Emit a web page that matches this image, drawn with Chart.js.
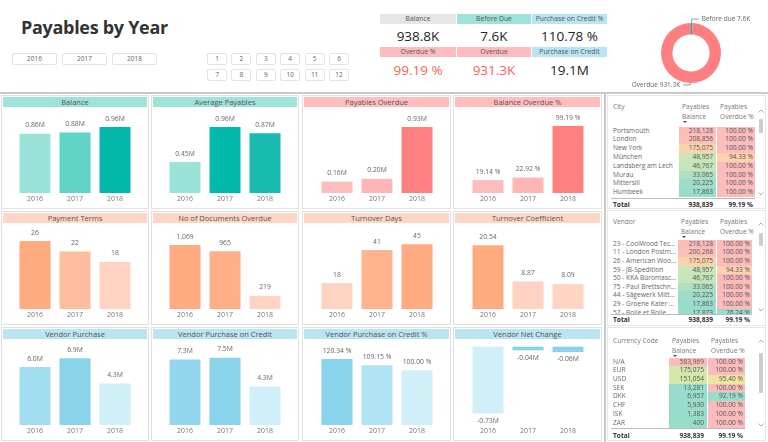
<!DOCTYPE html>
<html><head><meta charset="utf-8">
<script src="https://cdn.jsdelivr.net/npm/chart.js@4.4.1/dist/chart.umd.min.js"></script>
<style>
html,body{margin:0;padding:0}
body{width:768px;height:442px;overflow:hidden;background:#fff;position:relative;font-family:"Open Sans","Noto Sans",sans-serif;color:#666}
.a{position:absolute;white-space:nowrap}
.btn{position:absolute;border:1px solid #e3e3e3;border-radius:2px;background:#fff;font-size:6.5px;color:#666;text-align:center;box-sizing:border-box;line-height:10px}
.panel{position:absolute;border:1px solid #e0e0e0;box-sizing:border-box;background:#fff}
.ph{position:absolute;left:1px;right:1px;top:1px;height:10px;line-height:10px;font-size:7.5px;color:#555;text-align:center;white-space:nowrap}
.tbl{position:absolute;border:1px solid #e6e6e6;box-sizing:border-box;overflow:hidden;font-size:6.6px;background:#fff}
canvas{position:absolute}
</style></head><body>
<script>
// ---------- DATA ----------
const years = ['2016', '2017', '2018'];
const months = ['1','2','3','4','5','6','7','8','9','10','11','12'];
const balance = [0.86, 0.88, 0.96];
const avgPayables = [0.45, 0.96, 0.87];
const payablesOverdue = [0.16, 0.20, 0.93];
const balanceOverduePct = [19.14, 22.92, 99.19];
const paymentTerms = [26, 22, 18];
const docsOverdue = [1069, 965, 219];
const turnoverDays = [18, 41, 45];
const turnoverCoef = [20.54, 8.87, 8.09];
const vendorPurchase = [6.0, 6.9, 4.3];
const vendorPurchaseCredit = [7.3, 7.5, 4.3];
const vendorPurchaseCreditPct = [120.34, 109.15, 100.00];
const vendorNetChange = [-0.73, -0.04, -0.06];

const kpiLabelsTop = ['Balance', 'Before Due', 'Purchase on Credit %'];
const kpiValuesTop = ['938.8K', '7.6K', '110.78 %'];
const kpiLabelsBottom = ['Overdue %', 'Overdue', 'Purchase on Credit'];
const kpiValuesBottom = ['99.19 %', '931.3K', '19.1M'];

const donutLabels = ['Before due', 'Overdue'];
const donutValues = [7.6, 931.3];

const cityNames = ['Portsmouth','London','New York','München','Landsberg am Lech','Murau','Mittersill','Humbeek'];
const cityBalance = [218128, 208856, 175075, 48957, 46767, 33065, 20225, 17863];
const cityOverdue = [100, 100, 100, 94.33, 100, 100, 100, 100];
const vendorNames = ['23 - CoolWood Tec...','11 - London Postm...','26 - American Woo...','59 - JB-Spedition','50 - KKA Büromasc...','75 - Paul Brettschn...','44 - Sägewerk Mitt...','29 - Groene Kater ...','57 - Bolle et Bolle'];
const vendorBalance = [218128, 200268, 175075, 48957, 46767, 33065, 20225, 17863, 17873];
const vendorOverdue = [100, 100, 100, 94.33, 100, 100, 100, 100, 76.24];
const currencyCodes = ['N/A','EUR','USD','SEK','DKK','CHF','ISK','ZAR'];
const currencyBalance = [583969, 175075, 151054, 13281, 6957, 5930, 1383, 400];
const currencyOverdue = [100, 100, 95.40, 100, 92.19, 100, 100, 100];
const totalBalance = 938839;
const totalOverduePct = 99.19;

// ---------- STYLES ----------
const PINK='#fcbcbc', PEACH='#fdd2ae', TEAL='#98dccb';
const cityBalColors = [PINK,'#fdc1b9',PEACH,'#cae6b9','#c5e5b9','#afe0c3','#a0ddc8',TEAL];
const cityPctColors = [PINK,PINK,PINK,PEACH,PINK,PINK,PINK,PINK];
const vendorBalColors = [PINK,'#fdc1b9',PEACH,'#cae6b9','#c5e5b9','#afe0c3','#a0ddc8',TEAL,TEAL];
const vendorPctColors = [PINK,PINK,PINK,PEACH,PINK,PINK,PINK,PINK,TEAL];
const curBalColors = [PINK,'#d3e6ab','#d6e6a9',TEAL,TEAL,TEAL,TEAL,TEAL];
const curPctColors = [PINK,PINK,'#ece6a3',PINK,TEAL,PINK,PINK,PINK];

// ---------- HELPERS ----------
function el(parent, cls, css, html){
  const d=document.createElement('div'); if(cls) d.className=cls;
  for(const k in css){ const v=css[k]; d.style[k]=(typeof v==='number')?v+'px':v; }
  if(html!==undefined) d.textContent=html;
  parent.appendChild(d); return d;
}
const B=document.body;
function thousands(n,sep){ return String(n).replace(/\B(?=(\d{3})+(?!\d))/g, sep); }
const fM2=v=>v.toFixed(2)+'M', fM1=v=>v.toFixed(1)+'M', fPct=v=>v.toFixed(2)+' %', fInt=v=>thousands(v,'.'), fD2=v=>v.toFixed(2);

// ---------- HEADER AREA ----------
el(B,'a',{left:21,top:15,fontSize:18,fontWeight:'700',color:'#333',lineHeight:24,letterSpacing:'-0.3px'},'Payables by Year');
years.forEach((y,i)=>el(B,'btn',{left:12+i*50,top:53,width:45,height:12},y));
months.forEach((m,i)=>el(B,'btn',{left:207+(i%6)*24.4,top:53+Math.floor(i/6)*16,width:20,height:12},m));

const kx=[380,457,532], kw=[76,74,75];
const headTop=['#e6e6e6','#9ee3da','#b9e4f1'], headBot=['#ffbcbc','#ffbcbc','#b9e4f1'];
const valColTop=['#252423','#252423','#252423'], valColBot=['#fd625e','#fd625e','#252423'];
kpiLabelsTop.forEach((l,i)=>{
  el(B,'a',{left:kx[i],top:14,width:kw[i],height:9.5,lineHeight:9.5,background:headTop[i],fontSize:6.8,color:'#555',textAlign:'center'},l);
  el(B,'a',{left:kx[i],top:27,width:kw[i],height:18,lineHeight:18,fontSize:13.5,color:valColTop[i],textAlign:'center'},kpiValuesTop[i]);
});
kpiLabelsBottom.forEach((l,i)=>{
  el(B,'a',{left:kx[i],top:47,width:kw[i],height:10,lineHeight:10,background:headBot[i],fontSize:6.8,color:'#555',textAlign:'center'},l);
  el(B,'a',{left:kx[i],top:60.5,width:kw[i],height:18,lineHeight:18,fontSize:13.5,color:valColBot[i],textAlign:'center'},kpiValuesBottom[i]);
});

// separators
el(B,'a',{left:0,top:92,width:768,height:1.5,background:'#c9c9c9'});
el(B,'a',{left:604,top:92,width:1.5,height:350,background:'#c9c9c9'});

// ---------- DONUT ----------
const donutLabelPlugin={id:'dl',afterDatasetsDraw(chart){
  const ctx=chart.ctx, meta=chart.getDatasetMeta(0), ds=chart.data.datasets[0];
  ctx.save(); ctx.font='6.5px "Open Sans"'; ctx.fillStyle='#666'; ctx.strokeStyle='#999'; ctx.lineWidth=1;
  meta.data.forEach((arc,i)=>{
    const p=arc.getProps(['x','y','startAngle','endAngle','outerRadius'],true);
    const mid=(p.startAngle+p.endAngle)/2;
    const px=p.x+Math.cos(mid)*p.outerRadius, py=p.y+Math.sin(mid)*p.outerRadius;
    const up=Math.sin(mid)<0, right=Math.cos(mid)>=0;
    const y2=py+(up?-4:2), x2=px+(right?7:-7);
    ctx.beginPath(); ctx.moveTo(px,py); ctx.lineTo(px,y2); ctx.lineTo(x2,y2); ctx.stroke();
    ctx.textBaseline='middle'; ctx.textAlign=right?'left':'right';
    ctx.fillText(chart.data.labels[i]+' '+ds.data[i]+'K', x2+(right?3:-3), y2);
  });
  ctx.restore();
}};
(function(){
  const cv=document.createElement('canvas'); cv.width=122; cv.height=86; cv.style.left='630px'; cv.style.top='10px'; B.appendChild(cv);
  new Chart(cv,{type:'doughnut',data:{labels:donutLabels,datasets:[{data:donutValues,backgroundColor:['#01b8aa','#fd7f7f'],borderWidth:0,radius:30,cutout:'62%'}]},
    options:{responsive:false,animation:false,devicePixelRatio:1,plugins:{legend:{display:false},tooltip:{enabled:false}}},
    plugins:[donutLabelPlugin]});
})();

// ---------- BAR PANELS ----------
function valueLabelPlugin(fmt){
  return {id:'vl',afterDatasetsDraw(chart){
    const ctx=chart.ctx, meta=chart.getDatasetMeta(0), data=chart.data.datasets[0].data;
    ctx.save(); ctx.font='6.8px "Open Sans"'; ctx.fillStyle='#666'; ctx.textAlign='center';
    meta.data.forEach((bar,i)=>{
      const v=data[i], t=fmt(v);
      if(v>=0){ctx.textBaseline='bottom'; ctx.fillText(t,bar.x,bar.y-5);}
      else {ctx.textBaseline='top'; ctx.fillText(t,bar.x,bar.y+4);}
    });
    ctx.restore();
  }};
}
const TEAL_H='#9ee3da', PINK_H='#ffbdbd', PEACH_H='#ffd5c5', BLUE_H='#b9e4f1';
const panels=[
  {title:'Balance',data:balance,fmt:fM2,colors:['#9ae3d9','#5fd3c6','#01b8aa'],head:TEAL_H,max:1.236},
  {title:'Average Payables',data:avgPayables,fmt:fM2,colors:['#9ae3d9','#01b8aa','#17bcae'],head:TEAL_H,max:1.236},
  {title:'Payables Overdue',data:payablesOverdue,fmt:fM2,colors:['#ffbcbc','#ffb6b6','#fe8080'],head:PINK_H,max:1.198},
  {title:'Balance Overdue %',data:balanceOverduePct,fmt:fPct,colors:['#ffbcbc','#ffb6b6','#fe8080'],head:PINK_H,max:125.8},
  {title:'Payment Terms',data:paymentTerms,fmt:v=>String(v),colors:['#ffab82','#ffbd9d','#ffd3c1'],head:PEACH_H,max:32.5},
  {title:'No of Documents Overdue',data:docsOverdue,fmt:fInt,colors:['#ffab82','#ffae88','#ffd3c1'],head:PEACH_H,max:1420},
  {title:'Turnover Days',data:turnoverDays,fmt:v=>String(v),colors:['#ffd3c1','#ffb38e','#ffab82'],head:PEACH_H,max:59.1},
  {title:'Turnover Coefficient',data:turnoverCoef,fmt:fD2,colors:['#ffab82','#ffd3c1','#ffd5c4'],head:PEACH_H,max:27.4},
  {title:'Vendor Purchase',data:vendorPurchase,fmt:fM1,colors:['#a2dcef','#8ad4eb','#d1eff9'],head:BLUE_H,max:8.79},
  {title:'Vendor Purchase on Credit',data:vendorPurchaseCredit,fmt:fM1,colors:['#92d7ed','#8ad4eb','#d1eff9'],head:BLUE_H,max:9.47},
  {title:'Vendor Purchase on Credit %',data:vendorPurchaseCreditPct,fmt:fPct,colors:['#8ad4eb','#b0e3f3','#d1eff9'],head:BLUE_H,max:155},
  {title:'Vendor Net Change',data:vendorNetChange,fmt:fM2,colors:['#d1eff9','#8ad4eb','#8ad4eb'],head:BLUE_H,max:0.073,min:-0.857}
];
const colX=[1,151,302,453], colW=[148,148,149,149], rowY=[95,211,327];
panels.forEach((p,idx)=>{
  const c=idx%4, r=Math.floor(idx/4);
  const left=colX[c], top=rowY[r], w=colW[c];
  const pd=el(B,'panel',{left:left,top:top,width:w,height:114});
  el(pd,'ph',{background:p.head},p.title);
  const cx=left+w/2;
  const cv=document.createElement('canvas'); cv.width=120; cv.height=99;
  cv.style.left=(cx-60)+'px'; cv.style.top=(top+13)+'px'; B.appendChild(cv);
  new Chart(cv,{type:'bar',
    data:{labels:years,datasets:[{data:p.data,backgroundColor:p.colors,borderWidth:0,barPercentage:0.775,categoryPercentage:1}]},
    options:{responsive:false,animation:false,devicePixelRatio:1,layout:{padding:0},
      plugins:{legend:{display:false},tooltip:{enabled:false}},
      scales:{
        x:{grid:{display:false,drawTicks:false},border:{display:false},
           ticks:{color:'#777',font:{size:7,family:'"Open Sans"'},padding:2,maxRotation:0,autoSkip:false},
           afterFit(s){s.height=14;}},
        y:{display:false,min:(p.min!==undefined?p.min:0),max:p.max}
      }},
    plugins:[valueLabelPlugin(p.fmt)]});
});

// ---------- TABLES ----------
function chevron(parent,left,top,up){
  const s=document.createElementNS('http://www.w3.org/2000/svg','svg');
  s.setAttribute('width','6'); s.setAttribute('height','4');
  s.style.position='absolute'; s.style.left=left+'px'; s.style.top=top+'px';
  const pl=document.createElementNS('http://www.w3.org/2000/svg','polyline');
  pl.setAttribute('points',up?'0.5,3.5 3,1 5.5,3.5':'0.5,0.5 3,3 5.5,0.5');
  pl.setAttribute('fill','none'); pl.setAttribute('stroke','#999'); pl.setAttribute('stroke-width','0.8');
  s.appendChild(pl); parent.appendChild(s);
}
function buildTable(t){
  const box=el(B,'tbl',{left:t.x,top:t.y,width:t.w,height:t.h});
  const hc='#777', lh=9;
  el(box,'a',{left:5,top:t.hy-lh/2,lineHeight:lh,color:hc},t.title);
  el(box,'a',{left:t.bL+3,top:t.hy-lh/2,lineHeight:lh,color:hc},'Payables');
  el(box,'a',{left:t.bL+3,top:t.hy+10.5-lh/2,lineHeight:lh,color:hc},'Balance');
  el(box,'a',{left:t.bL+4,top:t.hy+15,width:0,height:0,borderLeft:'2px solid transparent',borderRight:'2px solid transparent',borderTop:'2.5px solid #444'});
  el(box,'a',{left:t.pL+3,top:t.hy-lh/2,lineHeight:lh,color:hc},'Payables');
  el(box,'a',{left:t.pL+3,top:t.hy+10.5-lh/2,lineHeight:lh,color:hc},'Overdue %');
  const body=el(box,'a',{left:0,top:t.bTop,width:t.w-8,height:t.bBot-t.bTop,overflow:'hidden'});
  t.names.forEach((n,i)=>{
    const cy=t.r0-t.bTop+i*t.rh, top=cy-t.rh/2;
    el(body,'a',{left:t.bL,top:top,width:t.bR-t.bL,height:t.rh+0.3,background:t.balC[i]});
    el(body,'a',{left:t.pL,top:top,width:t.pR-t.pL,height:t.rh+0.3,background:t.pctC[i]});
    el(body,'a',{left:5,top:top,lineHeight:t.rh,color:'#666'},n);
    el(body,'a',{left:t.bL,top:top,width:t.bR-t.bL-3,lineHeight:t.rh,textAlign:'right',color:'#555'},thousands(t.bal[i],','));
    el(body,'a',{left:t.pL,top:top,width:t.pR-t.pL-2,lineHeight:t.rh,textAlign:'right',color:'#555'},t.pct[i].toFixed(2)+' %');
  });
  el(box,'a',{left:3,top:t.bBot,width:t.pR-3,height:0.8,background:'#bbb'});
  const tt=t.ty-lh/2;
  el(box,'a',{left:5,top:tt,lineHeight:lh,color:'#333',fontWeight:'700'},'Total');
  el(box,'a',{left:t.bL,top:tt,width:t.bR-t.bL-3,lineHeight:lh,textAlign:'right',color:'#333',fontWeight:'700'},thousands(totalBalance,','));
  el(box,'a',{left:t.pL,top:tt,width:t.pR-t.pL-2,lineHeight:lh,textAlign:'right',color:'#333',fontWeight:'700'},totalOverduePct.toFixed(2)+' %');
  // scrollbar
  el(box,'a',{left:151,top:t.thumb[0],width:4,height:t.thumb[1]-t.thumb[0],background:'#cdcdcd',borderRadius:'1px'});
  chevron(box,150,t.up-2,true); chevron(box,150,t.down-2,false);
}
buildTable({x:607,y:95,w:159,h:114,title:'City',bL:71,bR:108,pL:109,pR:147,hy:10,r0:35,rh:8.8,bTop:30,bBot:101.5,ty:108,
  names:cityNames,bal:cityBalance,pct:cityOverdue,balC:cityBalColors,pctC:cityPctColors,thumb:[23,37],up:15,down:98});
buildTable({x:607,y:210,w:159,h:116,title:'Vendor',bL:70,bR:108,pL:109,pR:144,hy:10,r0:33,rh:8.6,bTop:28.5,bBot:103,ty:108,
  names:vendorNames,bal:vendorBalance,pct:vendorOverdue,balC:vendorBalColors,pctC:vendorPctColors,thumb:[22,35],up:13,down:99});
buildTable({x:607,y:327,w:159,h:114,title:'Currency Code',bL:61,bR:99,pL:100,pR:137,hy:12,r0:34,rh:8.7,bTop:29.5,bBot:99.5,ty:107,
  names:currencyCodes,bal:currencyBalance,pct:currencyOverdue,balC:curBalColors,pctC:curPctColors,thumb:[25,65],up:13,down:97});
</script>
</body></html>
